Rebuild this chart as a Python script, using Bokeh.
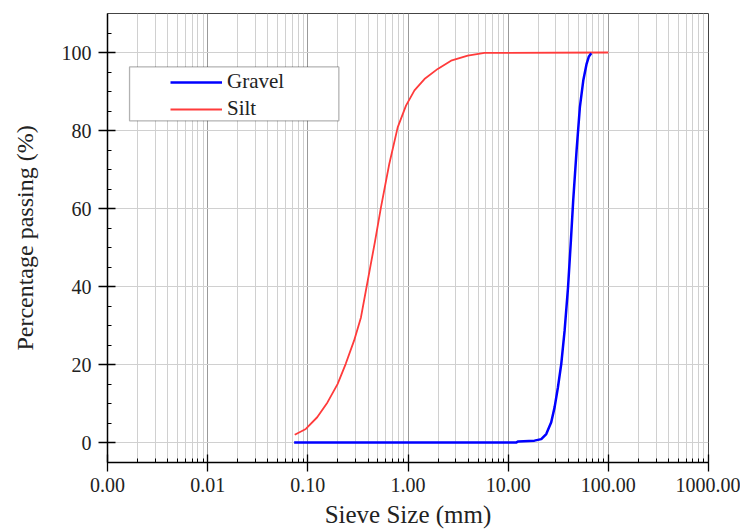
from bokeh.plotting import figure
from bokeh.models import (FixedTicker, PrintfTickFormatter, Range1d, Legend,
                          LegendItem, BoxAnnotation)
from bokeh.embed import file_html
from bokeh.resources import INLINE

# ---- data ----
gravel_x = [0.073, 12.0, 12.6, 18.3, 21.4, 24.0, 26.9, 29.1, 31.4, 33.9, 36.6,
            39.6, 42.3, 44.6, 48.2, 52.0, 56.2, 60.7, 64.0, 67.6]
gravel_y = [0.0, 0.0, 0.3, 0.5, 0.9, 2.2, 5.2, 9.1, 14.2, 20.2, 28.7,
            39.8, 51.8, 62.1, 74.9, 86.0, 92.8, 97.1, 99.0, 99.8]

silt_x = [0.074, 0.0955, 0.124, 0.157, 0.198, 0.239, 0.290, 0.339, 0.380,
          0.427, 0.468, 0.537, 0.651, 0.789, 0.955, 1.16, 1.46, 1.98, 2.69,
          3.95, 5.8, 100.0]
silt_y = [2.0, 3.5, 6.5, 10.3, 15.0, 20.2, 26.2, 32.1, 39.0,
          46.0, 51.5, 60.3, 71.5, 80.8, 86.4, 90.3, 93.2, 95.8, 97.9,
          99.2, 99.9, 100.0]

x_ticks = [0.001, 0.01, 0.1, 1.0, 10.0, 100.0, 1000.0]
y_ticks = [0, 20, 40, 60, 80, 100]
series_names = ["Gravel", "Silt"]

FONT = "Liberation Serif"

p = figure(width=740, height=532, x_axis_type="log",
           x_range=Range1d(0.001, 1000), y_range=Range1d(-5.1, 110),
           output_backend="svg", toolbar_location=None,
           min_border_left=107, min_border_right=32,
           min_border_top=13, min_border_bottom=70)

p.background_fill_color = "white"
p.border_fill_color = "white"
p.outline_line_color = "#444444"
p.outline_line_width = 1

minor_x = [k * 10.0 ** d for d in range(-3, 3) for k in range(2, 10)]
p.xaxis.ticker = FixedTicker(ticks=x_ticks, minor_ticks=minor_x)
p.xaxis.formatter = PrintfTickFormatter(format="%.2f")
minor_y = [v for v in range(5, 110, 5) if v not in y_ticks]
p.yaxis.ticker = FixedTicker(ticks=y_ticks, minor_ticks=minor_y)

for ax in (p.xaxis[0], p.yaxis[0]):
    ax.axis_line_color = "black"
    ax.axis_line_width = 1.5
    ax.major_tick_line_color = "black"
    ax.major_tick_line_width = 1.3
    ax.minor_tick_line_color = "black"
    ax.minor_tick_line_width = 1
    ax.major_tick_in = 8
    ax.major_tick_out = 9
    ax.minor_tick_in = 4
    ax.minor_tick_out = 0
    ax.major_label_text_font = FONT
    ax.major_label_text_font_size = "20px"
    ax.major_label_text_color = "#222222"
    ax.axis_label_text_font = FONT
    ax.axis_label_text_font_style = "normal"
    ax.axis_label_text_color = "#222222"

p.xaxis.axis_label = "Sieve Size (mm)"
p.yaxis.axis_label = "Percentage passing (%)"
p.xaxis.axis_label_text_font_size = "25px"
p.yaxis.axis_label_text_font_size = "24px"
p.xaxis.major_label_standoff = 6
p.yaxis.major_label_standoff = 7
p.xaxis.axis_label_standoff = 6
p.yaxis.axis_label_standoff = 21

p.xgrid.grid_line_color = "#9a9a9a"
p.xgrid.grid_line_width = 1
p.xgrid.minor_grid_line_color = "#d0d0d0"
p.xgrid.minor_grid_line_width = 1
p.ygrid.grid_line_color = "#d0d0d0"
p.ygrid.grid_line_width = 1

rs = p.line(silt_x, silt_y, line_color="#ff3b3b", line_width=1.8)
rg = p.line(gravel_x, gravel_y, line_color="#0000ff", line_width=2.5)

box = BoxAnnotation(left=0.00166, right=0.204, bottom=82.5, top=96.3,
                    fill_color="white", fill_alpha=1.0,
                    line_color="black", line_width=1.3)
p.add_layout(box)

legend = Legend(items=[LegendItem(label=series_names[0], renderers=[rg]),
                       LegendItem(label=series_names[1], renderers=[rs])],
                location=(63, 341), padding=0, margin=0, spacing=2,
                glyph_width=52, glyph_height=24, label_height=24,
                label_standoff=5,
                label_text_font=FONT, label_text_font_size="21px",
                label_text_color="#222222",
                border_line_alpha=0, background_fill_alpha=0)
p.add_layout(legend)

open("out.html", "w").write(file_html(p, INLINE))
